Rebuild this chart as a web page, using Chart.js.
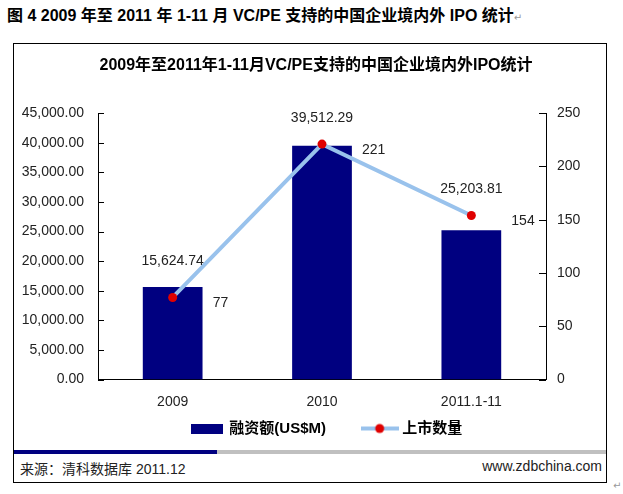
<!DOCTYPE html>
<html>
<head>
<meta charset="utf-8">
<script src="https://cdn.jsdelivr.net/npm/chart.js@4"></script>
<style>
  body { margin: 0; background: #fff; width: 623px; height: 494px; position: relative; overflow: hidden;
         font-family: "Liberation Sans", "Noto Sans CJK SC", sans-serif; }
  #head { position: absolute; left: 7px; top: 2px; font-size: 16px; font-weight: bold; color: #000; white-space: nowrap; }
  .mark { color: #999; font-weight: normal; font-size: 10px; font-family: "DejaVu Sans"; }
  #box { position: absolute; left: 13px; top: 43px; width: 592px; height: 438px; border: 1px solid #000; }
  #wrap { position: absolute; left: 0; top: 0; width: 592px; height: 402px; }
  #bar1 { position: absolute; left: 0; top: 406px; width: 203px; height: 4px; background: #000080; }
  #bar2 { position: absolute; left: 203px; top: 406px; width: 389px; height: 4px; background: #c0c0c0; }
  #src { position: absolute; left: 6px; top: 414px; font-size: 14px; color: #222; }
  #site { position: absolute; right: 4px; top: 414px; font-size: 14px; color: #222; }
  #end { position: absolute; left: 613px; top: 480px; }
</style>
</head>
<body>
<div id="head">图 4 2009 年至 2011 年 1-11 月 VC/PE 支持的中国企业境内外 IPO 统计<span class="mark">↵</span></div>
<div id="box">
  <div id="bar1"></div><div id="bar2"></div>
  <div id="src">来源：清科数据库 2011.12</div>
  <div id="site">www.zdbchina.com</div>
  <div id="wrap"><canvas id="myChart"></canvas></div>
</div>
<div id="end" class="mark">↵</div>
<script>
  const labels = ['2009', '2010', '2011.1-11']
  const funding = [15624.74, 39512.29, 25203.81]
  const ipoCount = [77, 221, 154]
  const leftTicks = [0, 5000, 10000, 15000, 20000, 25000, 30000, 35000, 40000, 45000]
  const rightTicks = [0, 50, 100, 150, 200, 250]

  const cjk = '"Liberation Sans", "Noto Sans CJK SC", sans-serif'

  // legend swatches
  const barSwatch = document.createElement('canvas')
  barSwatch.width = 32; barSwatch.height = 10
  let c = barSwatch.getContext('2d')
  c.fillStyle = '#000080'; c.fillRect(0, 0, 32, 10)

  const lineSwatch = document.createElement('canvas')
  lineSwatch.width = 38; lineSwatch.height = 12
  c = lineSwatch.getContext('2d')
  c.strokeStyle = '#99c2ec'; c.lineWidth = 4
  c.beginPath(); c.moveTo(0, 6); c.lineTo(38, 6); c.stroke()
  c.fillStyle = '#e00000'; c.beginPath(); c.arc(19, 6, 4.5, 0, Math.PI * 2); c.fill()

  const fmt = v => v.toLocaleString('en-US', { minimumFractionDigits: 2, maximumFractionDigits: 2 })

  // inward tick marks + value labels
  const extras = {
    id: 'extras',
    afterLayout(chart) {
      // legend and title sit a little right of centre in the original
      chart.legend.left += 17
      chart.legend.right += 17
      chart.titleBlock.left += 6
      chart.titleBlock.right += 6
    },
    afterDraw(chart) {
      const ctx = chart.ctx
      const y = chart.scales.y, y1 = chart.scales.y1
      ctx.save()
      ctx.strokeStyle = '#000'; ctx.lineWidth = 1
      leftTicks.forEach(t => {
        const p = Math.round(y.getPixelForValue(t)) + 0.5
        ctx.beginPath(); ctx.moveTo(y.right, p); ctx.lineTo(y.right + 6, p); ctx.stroke()
      })
      rightTicks.forEach(t => {
        const p = Math.round(y1.getPixelForValue(t)) + 0.5
        ctx.beginPath(); ctx.moveTo(y1.left, p); ctx.lineTo(y1.left - 7, p); ctx.stroke()
      })
      ctx.font = '14px ' + cjk
      ctx.fillStyle = '#222'
      ctx.textBaseline = 'middle'
      const bars = chart.getDatasetMeta(0).data
      const pts = chart.getDatasetMeta(1).data
      bars.forEach((b, i) => {
        ctx.textAlign = 'center'
        const top = Math.min(b.y, pts[i].y)
        ctx.fillText(fmt(funding[i]), b.x, top - 26)
        ctx.textAlign = 'left'
        ctx.fillText(String(ipoCount[i]), b.x + 40, pts[i].y + 6)
      })
      ctx.restore()
    }
  }

  const ctx = document.getElementById('myChart')

  new Chart(ctx, {
    data: {
      labels: labels,
      datasets: [{
        type: 'bar',
        label: '融资额(US$M)',
        data: funding,
        backgroundColor: '#000080',
        barPercentage: 0.4,
        categoryPercentage: 1,
        yAxisID: 'y',
        order: 2
      },
      {
        type: 'line',
        label: '上市数量',
        data: ipoCount,
        borderColor: '#99c2ec',
        borderWidth: 4,
        pointBackgroundColor: '#e00000',
        pointBorderColor: '#e00000',
        pointRadius: 4.5,
        pointBorderWidth: 0,
        yAxisID: 'y1',
        order: 1
      }]
    },
    options: {
      responsive: true,
      maintainAspectRatio: false,
      animation: false,
      layout: { padding: { left: 0, right: 0, top: 0, bottom: 0 } },
      plugins: {
        tooltip: { enabled: false },
        title: {
          display: true,
          text: '2009年至2011年1-11月VC/PE支持的中国企业境内外IPO统计',
          color: '#000',
          font: { size: 16, weight: 'bold', family: cjk },
          padding: { top: 12, bottom: 38 }
        },
        legend: {
          position: 'bottom',
          labels: {
            usePointStyle: true,
            pointStyleWidth: 30,
            padding: 9.5,
            color: '#000',
            font: { size: 15, weight: 'bold', family: cjk },
            sort: (a, b) => a.datasetIndex - b.datasetIndex,
            generateLabels(chart) {
              const items = Chart.defaults.plugins.legend.labels.generateLabels(chart)
              items.forEach(it => {
                it.pointStyle = it.datasetIndex === 0 ? barSwatch : lineSwatch
                if (it.datasetIndex === 0) it.text += '       '
              })
              return items
            }
          }
        }
      },
      scales: {
        x: {
          afterFit(s) { s.height = 32 },
          grid: { display: false, drawTicks: false },
          border: { display: true, color: '#000' },
          ticks: { color: '#222', padding: 14, font: { size: 14, family: cjk } }
        },
        y: {
          position: 'left',
          min: 0, max: 45000,
          afterBuildTicks(s) { s.ticks = leftTicks.map(v => ({ value: v })) },
          afterFit(s) { s.width = 84 },
          grid: { display: false, drawTicks: false },
          border: { display: true, color: '#000' },
          ticks: { color: '#222', padding: 14, font: { size: 14, family: cjk }, callback: v => fmt(v) }
        },
        y1: {
          position: 'right',
          min: 0, max: 250,
          afterBuildTicks(s) { s.ticks = rightTicks.map(v => ({ value: v })) },
          afterFit(s) { s.width = 60 },
          grid: { display: false, drawTicks: false },
          border: { display: true, color: '#000' },
          ticks: { color: '#222', padding: 11, font: { size: 14, family: cjk } }
        }
      }
    },
    plugins: [extras]
  })
</script>
</body>
</html>
